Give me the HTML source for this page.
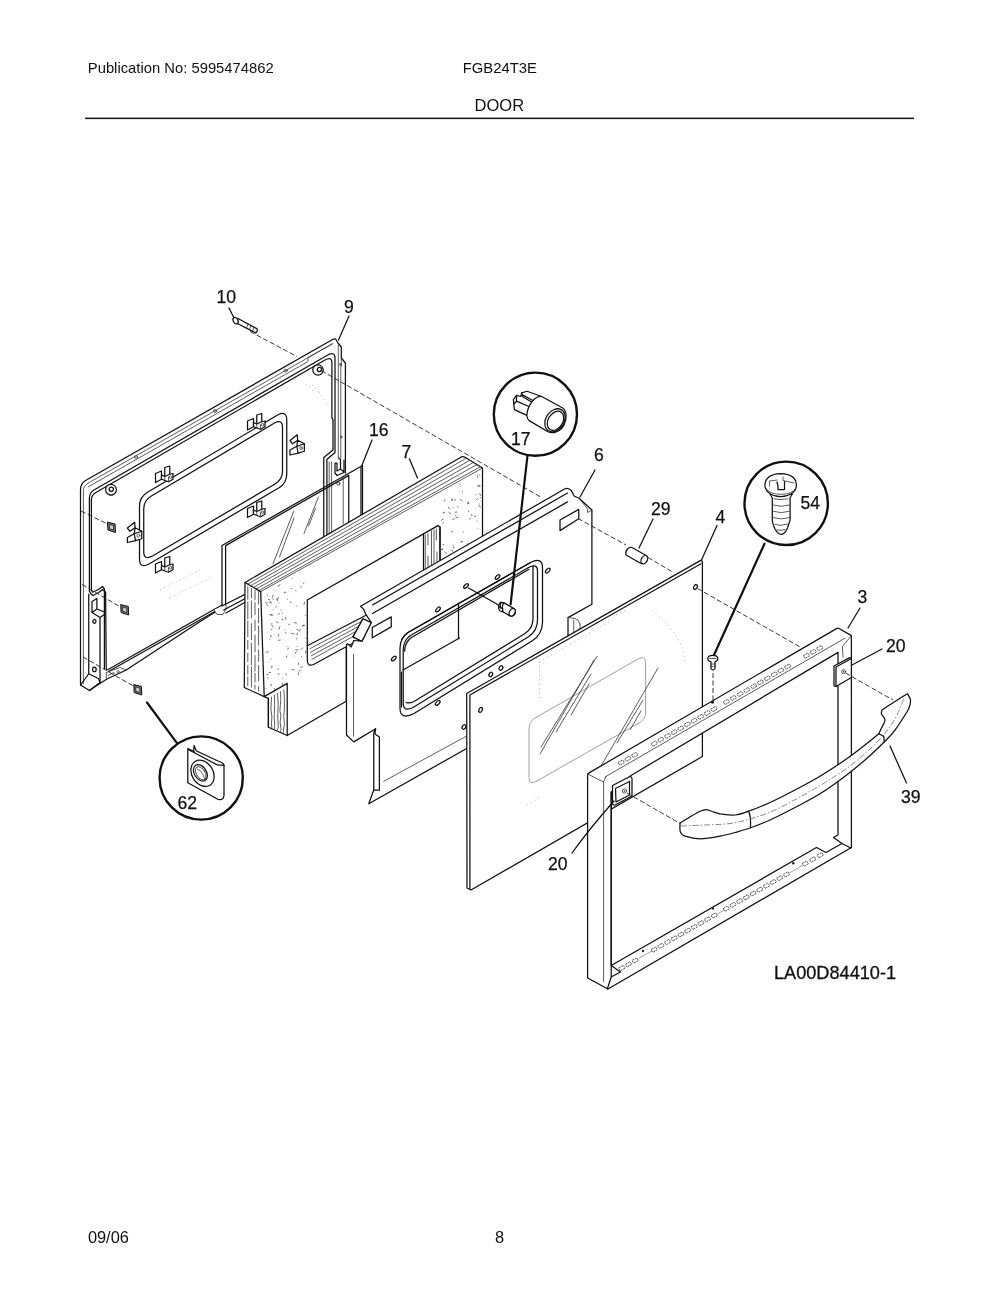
<!DOCTYPE html>
<html><head><meta charset="utf-8"><title>DOOR</title>
<style>
html,body{margin:0;padding:0;background:#fff;}
body{width:1000px;height:1294px;overflow:hidden;font-family:"Liberation Sans",sans-serif;}
svg{position:absolute;left:0;top:0;display:block}
svg text{font-family:"Liberation Sans",sans-serif;fill:#111;}
svg{filter:grayscale(1)}
.l{fill:none;stroke:#111;stroke-width:1.25;stroke-linejoin:round;stroke-linecap:round}
.w{fill:#fff;stroke:#111;stroke-width:1.25;stroke-linejoin:round;stroke-linecap:round}
.t{fill:none;stroke:#333;stroke-width:0.8;stroke-linejoin:round;stroke-linecap:round}
.tw{fill:#fff;stroke:#333;stroke-width:0.8;stroke-linejoin:round;stroke-linecap:round}
.g{fill:none;stroke:#888;stroke-width:0.8;stroke-linecap:round}
.d{fill:none;stroke:#222;stroke-width:0.9;stroke-dasharray:5 2.5}
.dd{fill:none;stroke:#999;stroke-width:0.8;stroke-dasharray:1 3.4}
.k{fill:none;stroke:#111;stroke-width:2.2;stroke-linecap:round}
.n{font-size:17.6px;stroke:#111;stroke-width:0.25}
</style></head>
<body>
<svg width="1000" height="1294" viewBox="0 0 1000 1294">
<rect x="0" y="0" width="1000" height="1294" fill="#fff"/>
<text x="87.8" y="72.6" font-size="14.8">Publication No: 5995474862</text>
<text x="462.8" y="72.6" font-size="14.8">FGB24T3E</text>
<text x="474.6" y="110.5" font-size="16.5">DOOR</text>
<rect x="85" y="117.6" width="829" height="1.5" fill="#111"/>
<text x="87.9" y="1243.3" font-size="16.4">09/06</text>
<text x="494.9" y="1243.3" font-size="16.4">8</text>
<!-- p09 -->
<g id="p09">
<!-- dashed assembly lines behind -->
<path class="d" d="M250,331.5 L297,356.5"/>
<!-- outer silhouette -->
<path d="M80.5,490 Q80.6,483 86,480.3 L333,339.2 L335.6,339 L338,343 L341.3,347 L341.3,358 L345.6,363 L345.6,600 L216,611.5 L194.75,625 L126.25,670 L107.5,678.75 L100.6,683 L89.4,690.5 L80.5,685 Z" fill="#fff" stroke="none"/>
<path class="l" d="M345.4,473 L345.4,363 L341.3,358 L341.3,347 L338,343 L335.6,339 L333,339.2 L86,480.3 Q80.6,483 80.5,490 L80.5,685 L89.4,690.5 L100.6,683 L107.5,678.75 L126.25,670 L194.75,625 L216,611.5"/>
<path class="t" d="M343.2,478 L343.2,524"/>
<!-- lip lines -->
<path class="t" d="M83.4,684 L83.4,491 Q83.6,485.5 88,483.2 L333,343.5"/>
<path class="t" d="M88,487 L308,361.5 L308,357.5 L332,344"/>
<!-- channel double line: top + left + right -->
<path class="l" stroke-width="0.95" stroke="#222" d="M89.4,591 L89.4,498 Q89.5,492.5 94,490 L326,356 Q335,350.5 335,358 L335,452.5 L326.9,459.4 L326.9,540"/>
<path class="l" stroke-width="0.95" stroke="#222" d="M91.4,590 L91.4,499.5 Q91.5,495 95.5,492.7 L325,360 Q331.9,356 331.9,363 L331.9,417.5 L333,420 L333,450 L323.75,457.5 L323.75,540"/>
<path class="t" d="M338.3,345 L338.3,457.5 M340.8,366 L340.8,458 M329.2,462 L329.2,540 M331.6,462 L331.6,540"/>
<path class="t" d="M341.3,358 L341.3,366"/>
<!-- hinge slot right -->
<path class="l" stroke-width="0.9" d="M335,463 L335,473 L337,475.5 L344,472.5 L344,460 M338.5,458 L340.5,459.5 L340.5,469 L337,471 L337,463 L335,463 M340.5,469 L344,472"/>
<circle class="t" stroke="#222" cx="338.2" cy="483.6" r="1.6"/>
<!-- left lower hinge bracket -->
<path class="l" d="M89.4,591 L90.6,593.5 L93,595.5 L98.75,592.5 L102.5,589.4 L105.6,592 L106.25,668.75 Q106.5,670.5 109,669 L222,605"/>
<path class="l" d="M91.4,590 L92.5,592.3 L98.5,589.5 L102.5,586.5 L104.4,589 L104.4,668.5"/>
<path class="l" stroke-width="0.95" d="M88.75,594 L88.75,673.75 L80.6,685 M88.75,673.75 L98.75,678.75 L100,683 M89.4,690.5 L98.75,683.5"/>
<path class="l" stroke-width="0.95" d="M100,617.5 L100,682.5 M100,617.5 L104.4,614.5 M92,612.5 L100,617.5 M92,612.5 L96.9,609 L96.9,598.5 L92,601.5 Z M96.9,609 L104.4,612"/>
<ellipse class="l" stroke-width="0.9" cx="94.4" cy="621.3" rx="1.6" ry="2"/>
<ellipse class="l" stroke-width="0.9" cx="94.4" cy="669.4" rx="1.8" ry="2.2"/>
<!-- bottom channel lines -->
<path class="l" d="M108.5,671.5 L222,607.5"/>
<path class="t" d="M106.3,672.5 L106.3,678.5 M106.3,672.5 L120,667.5 L126.25,670 M108,675.5 L114,672.5 L114,675 M118.5,670.6 a1.4,1 -30 1 0 0.1,0"/>
<!-- bottom middle foot -->
<path class="tw" d="M214,610 L217,614.5 L223,614.5 L226,609 L226,605"/>
<!-- window frame -->
<path class="l" d="M139.5,506 Q139.6,497 147.5,492.3 L278,414.8 Q286.75,410.5 286.75,420 L286.75,474 Q286.7,483 279,487.8 L149,564 Q139.5,569 139.5,559 Z"/>
<path class="l" d="M143.75,509 Q143.8,500.5 151,496.3 L274.5,423 Q282.5,418.8 282.5,427.5 L282.5,471.5 Q282.4,479.5 275,484 L152.5,556 Q143.75,560.5 143.75,552 Z"/>
<!-- bosses and holes -->
<circle class="w" stroke-width="1" cx="111" cy="489.7" r="5.4"/><circle class="l" stroke-width="0.9" cx="111.3" cy="489.3" r="2.1"/><path class="t" d="M106.6,492.5 Q108.5,496 112.5,495.5"/>
<circle class="w" stroke-width="1" cx="318" cy="370" r="5.2"/><circle class="l" stroke-width="0.9" cx="319.4" cy="369.4" r="2.1"/>
<ellipse class="t" cx="136" cy="457" rx="1.6" ry="1.3"/>
<ellipse class="t" cx="215" cy="411" rx="1.6" ry="1.3"/>
<ellipse class="t" cx="285.6" cy="370.6" rx="1.6" ry="1.3"/>
<ellipse class="t" cx="340.3" cy="364.4" rx="0.8" ry="1"/>
<ellipse class="t" cx="341.3" cy="437" rx="0.7" ry="0.9"/>
<!-- clips -->
<defs>
<g id="clipA">
<path class="w" d="M-4.25,0 L-4.25,-10.5 L0.75,-12 L0.75,-3.75"/>
<path class="w" d="M-13.5,-4.5 L-7.5,-7 L-7.5,1.25 L-13.5,4.5 Z"/>
<path class="w" d="M-7.5,-3 L-4.25,-1.5 L0.75,-3.75 L4,-4.5 L4,1.25 L-0.5,3.75 L-7.5,1.25 Z"/>
<path class="t" d="M-4.25,-1.5 L-4.25,2.4 M-0.5,3.75 L-0.5,-1"/>
<circle class="t" cx="1.6" cy="-0.8" r="1.3"/>
</g>
<g id="clipB">
<path class="w" d="M-10.6,-6.9 L-3.4,-12.75 L-2.9,-7.25 L-8.1,-3.75 Z"/>
<path class="w" d="M-10.6,7.5 L-10.6,2.5 L-3.75,-1.25 L-2.9,-7.25 L3.75,-3.75 L3.75,3.75 L-2.5,5.6 Z"/>
<path class="l" d="M-3.75,-1.25 L-2.5,5.6 M-3.75,-1.25 L3.75,-3.75" stroke-width="0.9"/>
<circle class="t" cx="0.4" cy="0.6" r="1.4"/>
</g>
<g id="unut">
<path d="M-4,-5 L3.6,-3 L4,5.5 L-3.6,3 Z" fill="#777" stroke="#111" stroke-width="1"/>
<path d="M-2.2,-2.6 L2,-1.4 L2.2,3 L-2,1.8 Z" fill="#ccc" stroke="#111" stroke-width="0.7"/>
</g>
</defs>
<use href="#clipA" x="169" y="478"/>
<use href="#clipA" x="261" y="425.5"/>
<use href="#clipA" x="261" y="513"/>
<use href="#clipA" x="169" y="568.5"/>
<use href="#clipB" x="138" y="535"/>
<use href="#clipB" x="300.6" y="447.5"/>
<!-- faint dotted -->
<path class="dd" d="M306,384 L313,391 M312,385 L320,393 M319,392 L328,405"/>
<path class="dd" d="M160,590 L200,570 M170,598 L210,578"/>
<!-- U nuts with dashed lines -->
<path class="d" d="M81,511 L107.5,524 M82,584.5 L120.6,607 M83,657 L133.75,686.3"/>
<use href="#unut" x="111.5" y="527"/>
<use href="#unut" x="124.7" y="609.5"/>
<use href="#unut" x="137.8" y="689.5"/>
<!-- screw 10 -->

<path class="w" stroke-width="1" d="M237.5,318.3 L256.8,328.6 Q258.3,330.8 255.6,332.9 L236,322.8 Z"/>
<path class="t" d="M248,324 L246.5,328 M251,325.6 L249.5,329.6 M254,327.2 L252.5,331.2"/>
<ellipse class="w" stroke-width="1" cx="235.6" cy="320.6" rx="2.3" ry="3.4" transform="rotate(-28 235.6 320.6)"/>
<path class="t" d="M237.5,318.3 Q239.5,320.5 238,324"/>
<path class="l" d="M229,308 L233.5,317"/>
<path class="l" d="M338.5,340 L349,316"/>
</g>

<!-- p07 -->
<g id="p16">
<path class="l" d="M222,545.5 L362.5,465.5 L362.5,535 L222,606 Z"/>
<path class="l" d="M225.6,545.6 L348.75,475.4 M348.75,475.4 L348.75,530 M361,466.5 L361,530 M225.6,545.6 L225.6,604.4"/>
<path class="l" d="M223.75,610 L250,596 M226,613 L250,599.5"/>
<path class="t" d="M293.75,511.25 L273,563.75 M294,518 L279.5,557 M318.4,497 L304,533.5 M315.5,508.5 L308.5,526"/>
<path class="l" d="M361.9,465.6 L372,440"/>
</g>
<g id="p07">
<path class="w" d="M245,582.5 L460,457.7 Q462.5,456 465,457.3 L482.5,468 L482.5,560 L346.25,640 L346.25,701.25 L287.2,735.5 L268.4,727.2 L268.4,698.4 L264.2,696.6 L244.3,687.5 Z"/>
<path class="t" stroke="#555" stroke-width="0.7" d="M247.8,584.1 L466.1,458.3"/>
<path class="t" stroke="#555" stroke-width="0.7" d="M250.6,585.8 L469.6,460.4"/>
<path class="t" stroke="#555" stroke-width="0.7" d="M253.4,587.4 L473.2,462.5"/>
<path class="t" stroke="#555" stroke-width="0.7" d="M256.2,589.0 L476.8,464.6"/>
<path class="t" stroke="#555" stroke-width="0.7" d="M259.0,590.6 L480.4,466.7"/>
<path class="l" d="M245,582.5 L260.7,591.6"/>
<path class="t" stroke="#333" stroke-width="0.9" d="M260.7,591.6 L482.5,468"/>
<path class="l" d="M260.7,591.6 L264.2,696.6 L287.2,683.4 L287.2,735.5"/>
<path class="l" d="M268.4,698.4 L268.4,727.2"/>
<path class="t" d="M247.8,586.8 L247.8,599.3 M247.8,601.9 L247.8,619.0 M247.8,621.3 L247.8,636.8 M247.8,640.3 L247.8,649.1 M247.8,653.1 L247.8,661.6 M247.8,665.4 L247.8,674.4 M247.8,676.7 L247.8,685.8 " stroke-width="1" stroke="#222"/>
<path class="t" d="M251.4,588.4 L251.4,598.1 M251.4,601.0 L251.4,617.8 M251.4,623.6 L251.4,639.7 M251.4,643.3 L251.4,664.9 M251.4,667.1 L251.4,687.1 " stroke-width="1" stroke="#222"/>
<path class="t" d="M255,590.0 L255,600.0 M255,602.5 L255,614.8 M255,620.1 L255,630.6 M255,635.0 L255,651.9 M255,655.4 L255,671.1 M255,673.3 L255,682.1 M255,685.0 L255,689.2 " stroke-width="1" stroke="#222"/>
<path class="t" d="M258.6,591.7 L258.6,604.1 M258.6,608.4 L258.6,622.7 M258.6,625.9 L258.6,645.1 M258.6,649.9 L258.6,661.3 M258.6,665.6 L258.6,680.9 M258.6,686.4 L258.6,690.9 " stroke-width="1" stroke="#222"/>
<path class="t" d="M271.5,697.1 L270.9,709.0 L271.9,716.9 L271.5,723.0 L271.8,727.6 "/>
<path class="t" d="M274.5,695.3 L274.6,705.7 L274.2,716.8 L274.7,726.7 L274.4,728.9 "/>
<path class="t" d="M277.5,693.5 L278.2,704.4 L277.8,712.7 L277.8,718.2 L278.3,727.7 L277.2,730.2 "/>
<path class="t" d="M280.5,691.7 L280.8,699.4 L280.4,704.6 L279.9,710.8 L280.9,716.2 L280.1,722.1 L281.1,729.8 L280.4,731.5 "/>
<path class="t" d="M283.8,689.8 L284.4,698.6 L284.4,709.3 L283.7,716.3 L284.4,723.8 L283.2,733.0 "/>
<path class="w" d="M307.3,600 L438,525.6 L440,527 L440,600 L347.5,646 L314,664.2 Q307.3,667.5 307.3,659.5 Z"/>
<path class="l" d="M423.5,534 L423.5,575 M440,527 L440,565"/>
<path class="t" d="M425.3,535 L425.3,572 M428,534 L428,545 M428,556 L428,570 M431.5,531 L431.5,568 M434,530 L434,566 M437,552 L437,564 M436.3,529 L436.3,540"/>
<path class="l" d="M307.3,645.8 L366,615.2"/>
<path class="t" d="M310.1,648.6 L365.0,619.5"/>
<path class="t" d="M310.7,652.2 L364.0,623.5"/>
<path class="t" d="M311.3,655.8 L363.0,627.5"/>
<path class="t" d="M311.9,659.4 L362.0,631.5"/>
<path d="M272.4,598.4 l1.4,1.2 M289.7,602.2 l1.7,0.0 M280.5,640.0 l-2.4,0.4 M286.7,646.4 l-0.4,0.6 M302.8,666.6 l-2.5,1.0 M281.5,619.2 l2.1,0.7 M273.8,589.7 l0.4,0.6 M269.3,614.8 l2.9,0.2 M290.8,588.0 l1.1,1.1 M280.3,584.8 l-2.8,1.5 M284.6,629.7 l0.8,0.2 M279.4,602.5 l-0.9,0.5 M266.0,687.9 l-0.1,1.0 M301.3,656.2 l1.1,1.1 M272.0,665.6 l-0.3,2.6 M278.8,597.3 l-2.6,1.8 M300.8,669.9 l-2.1,1.4 M274.5,633.9 l0.3,0.6 M266.2,604.3 l1.6,1.7 M305.2,625.2 l-3.1,0.6 M305.1,614.9 l0.9,0.8 M273.3,594.9 l-1.1,2.7 M300.3,629.2 l-1.2,2.4 M268.6,651.7 l-2.5,0.7 M296.5,629.0 l2.2,1.4 M279.0,669.2 l-1.6,0.1 M295.4,590.7 l0.9,0.4 M271.1,672.4 l-2.3,0.1 M279.7,637.8 l0.6,0.3 M305.8,650.4 l-0.3,3.0 M283.2,678.0 l-1.0,0.6 M275.6,606.0 l1.5,1.5 M275.9,621.7 l2.7,1.2 M279.9,626.5 l-0.8,2.9 M282.7,683.8 l-0.0,2.0 M283.5,592.3 l2.7,0.0 M272.2,628.4 l-1.3,1.6 M278.7,634.0 l-0.5,2.6 M269.5,639.3 l0.9,0.9 M297.4,632.7 l-0.5,2.5 M303.3,624.7 l-0.7,1.8 M286.5,655.7 l0.3,2.0 M304.6,601.8 l-0.6,3.0 M300.3,586.6 l1.6,0.7 M268.0,599.5 l2.3,0.5 M271.5,658.7 l-0.5,0.9 M274.2,688.1 l0.6,1.8 M271.8,623.2 l-0.1,1.5 M273.2,609.2 l-0.4,0.5 M288.3,624.3 l1.5,0.1 M291.2,633.3 l3.1,0.6 M269.4,602.6 l2.6,0.3 M282.7,683.0 l-1.1,0.7 M271.3,683.9 l-0.5,2.4 M293.9,622.5 l3.0,0.7 M291.6,669.3 l2.7,0.7 M267.8,676.9 l0.2,1.5 M287.1,599.2 l1.0,0.3 M267.1,594.6 l0.8,1.2 M296.9,605.6 l-0.0,1.1 M295.8,638.1 l1.5,1.0 M304.3,582.7 l-1.5,0.9 M285.8,673.4 l0.6,1.8 M279.4,673.1 l-1.4,1.8 M282.0,612.8 l0.9,0.2 M268.0,661.7 l0.7,0.7 M268.5,674.2 l-2.2,0.9 M276.8,599.7 l1.1,1.4 M271.6,625.0 l2.1,2.3 M305.9,637.6 l2.2,2.2 M278.0,613.9 l1.6,0.0 M284.9,632.1 l1.5,1.1 M265.2,602.4 l1.6,0.5 M277.8,598.5 l-0.5,1.9 M296.5,651.4 l-1.8,2.2 M281.4,610.1 l-1.0,0.0 M295.4,649.6 l2.7,0.4 M302.5,647.6 l-1.8,2.0 M270.9,634.7 l-0.0,2.8 M298.8,672.4 l-0.8,2.8 M293.7,655.8 l0.5,0.5 M270.6,614.4 l2.6,0.9 M288.5,647.7 l-0.9,2.2 M298.5,662.7 l-0.0,2.0 M292.7,577.7 l-0.9,0.9 M268.1,602.6 l-0.7,0.9 M285.7,617.1 l0.2,2.4 M297.2,646.3 l-0.3,0.7 M271.2,601.1 l-1.0,1.0 M445.3,499.4 l-1.2,2.1 M468.7,501.7 l-0.1,1.8 M460.7,484.1 l-1.1,0.4 M443.7,518.8 l-2.6,1.7 M460.1,499.4 l2.4,1.9 M451.0,531.3 l1.8,0.8 M479.2,485.5 l-1.6,1.0 M476.7,543.7 l2.2,1.9 M443.1,522.2 l0.2,1.4 M448.3,507.1 l1.5,2.3 M443.1,548.6 l-0.8,0.4 M478.2,544.7 l-1.3,0.4 M457.1,512.1 l-2.1,0.0 M456.7,515.7 l0.5,0.6 M446.9,557.1 l1.9,2.4 M452.5,499.1 l-0.0,1.1 M478.7,528.0 l-0.5,0.6 M470.8,518.0 l-1.6,1.6 M478.2,485.0 l0.1,1.5 M454.3,547.4 l-1.3,0.1 M467.9,502.7 l-0.3,1.6 M450.9,564.4 l0.0,1.2 M460.1,486.2 l0.7,0.5 M452.1,498.4 l-0.6,2.8 M471.5,514.1 l0.5,1.9 M457.3,506.5 l1.3,0.3 M479.8,484.8 l-0.0,2.2 M475.8,494.0 l0.8,0.9 M458.2,517.5 l-2.8,0.4 M444.2,544.4 l-1.7,0.6 M479.9,497.3 l0.9,0.3 M462.8,541.6 l-2.4,0.5 M467.6,550.0 l0.3,2.0 M444.5,551.8 l2.2,2.0 M467.5,503.0 l1.2,0.5 M467.2,543.3 l0.7,0.3 M462.9,531.5 l0.4,1.1 M454.5,519.0 l-2.3,0.3 M476.6,520.5 l0.9,0.8 M479.5,543.9 l0.4,0.5 M461.9,540.8 l0.3,1.2 M455.8,514.9 l-0.6,0.9 M473.3,547.4 l-0.0,1.1 M479.9,503.8 l-1.0,0.6 M451.4,549.6 l1.8,2.5 M461.8,491.1 l1.3,1.1 M448.6,512.1 l2.5,1.9 M445.3,512.1 l-2.8,0.9 M478.4,505.6 l2.5,1.7 M468.2,510.6 l0.6,1.3 M453.6,507.8 l-0.9,0.1 M479.6,493.2 l1.2,2.5 M474.2,516.1 l1.8,0.3 M457.2,565.8 l1.3,0.9 M477.1,475.1 l0.7,2.6 M478.0,498.2 l-2.1,2.1 M455.9,499.8 l-2.2,0.3 M453.0,545.1 l0.7,1.1 M443.1,549.1 l-2.2,0.6 M478.8,474.5 l1.4,1.2 " fill="none" stroke="#444" stroke-width="0.75"/>
<path class="l" d="M409.4,458.75 L417.5,478"/>
</g>
<!-- p06 -->
<g id="p06">
<!-- flap tab behind top-left -->
<path class="w" d="M363,618.75 L371.25,622.75 L361.9,641.25 L353,636.9 Z"/>
<!-- silhouette -->
<path class="w" d="M360.6,606.25 L565,488.75 Q567,487.8 568.5,488.8 L571.25,490.6 L574.4,496.25 L578.75,498 L591.9,510 L591.9,604.3 L568,617.6 L568,700 L466.25,748.75 L368.75,803.75 L373.75,790 L373.75,733 L375.6,728.75 L353.75,741.9 L346.5,735 L346.5,644.4 L347.5,643.75 L351.25,646.9 L353.8,640.5 L361.9,641.25 L371.25,622.5 L367.5,616.9 L365.6,613.75 L363.75,609.4 Z"/>
<!-- flap tab -->
<path class="w" d="M363,618.75 L371.25,622.75 L361.9,641.25 L353,636.9 Z"/>
<!-- top fold lines -->
<path class="l" d="M372.5,605 L567.5,493"/>
<path class="l" d="M372.5,613.5 L567.5,501.9"/>
<!-- top-right fold -->
<path class="t" d="M580,499.5 L587.5,508.75 L587.5,512.5 L591.9,510"/>
<!-- left inner line -->
<path class="t" stroke="#222" d="M353.5,654.4 L353.5,736.25"/>
<!-- bottom-left leg -->
<path class="l" d="M379.4,737 L379.4,790 L373.75,790 M375.6,728.75 L375,734 L379.4,737"/>
<path class="t" stroke="#222" d="M383.75,781.25 L466.25,736.25"/>
<!-- bottom right channel -->
<path class="t" stroke="#222" d="M573.75,620 L573.75,640 M580,624 L580,636 M568,617.6 L575,618.5 Q579,619.5 580,624"/>
<!-- slots -->
<path class="l" d="M372.25,627.5 L391.25,616.9 L391.25,626.9 L372.25,637.75 Z"/>
<path class="l" d="M560,520 L578.75,509.4 L578.75,518.75 L560,530.6 Z"/>
<!-- window inner content (seen through) -->
<path class="w" d="M400,648 Q400.1,638 408,632.5 L530.5,562.5 Q542.5,556.5 542.5,568 L542.5,622 Q542.4,634.5 532,641 L414,713.5 Q400,720.5 400,708 Z"/>
<path class="l" d="M403,670 L459.5,638 M458.5,603.5 L458.5,638.75"/>
<path class="l" d="M403.2,650 Q403.3,640.5 410.5,635.5 L529,567.3 Q537.5,563 537.5,571 L537.5,620 Q537.4,631 528.5,636.8 L413,707.5 Q403.2,712.5 403.2,703 Z"/>
<path class="l" d="M404.6,651 Q405,642 411.5,637.5 L529,569.3"/>
<path class="l" d="M401.5,640 Q403.5,635.5 408,632.5 L530.5,562.5" stroke-width="2.2"/>
<path class="l" d="M533,566 L533,618.5 Q532.9,628.5 525,633.5 L414,701.5 Q409.5,703.8 406,702.5"/>
<path class="l" d="M401.5,672 L401.5,707"/>
<!-- holes -->
<g class="l">
<ellipse cx="466" cy="586" rx="2.9" ry="1.5" transform="rotate(-45 466 586)"/>
<ellipse cx="438" cy="609.4" rx="2.9" ry="1.5" transform="rotate(-45 438 609.4)"/>
<ellipse cx="497.5" cy="577" rx="2.9" ry="1.5" transform="rotate(-45 497.5 577)"/>
<ellipse cx="547.75" cy="570.6" rx="2.9" ry="1.5" transform="rotate(-45 547.75 570.6)"/>
<ellipse cx="393.75" cy="658.5" rx="2.9" ry="1.5" transform="rotate(-45 393.75 658.5)"/>
<ellipse cx="437.75" cy="702.9" rx="2.9" ry="1.5" transform="rotate(-45 437.75 702.9)"/>
<ellipse cx="490.75" cy="674.5" rx="2.4" ry="1.7" transform="rotate(-60 490.75 674.5)"/>
<ellipse cx="501" cy="668" rx="2.4" ry="1.7" transform="rotate(-60 501 668)"/>
<ellipse cx="464" cy="727" rx="2.4" ry="1.7" transform="rotate(-60 464 727)"/>
</g>
<!-- lamp lens 17 small with line -->
<path class="l" d="M468.6,588 L499,605.2" stroke-width="0.95"/>
<path class="w" d="M498.6,605.5 L500.5,602.3 L503.6,602.6 L514,608.6 Q516,610.5 515.2,613.5 Q514,616.3 510.5,616.2 L503,611.8 L500,611 L498.6,608.5 Z"/>
<ellipse class="w" cx="512.2" cy="612.3" rx="2.7" ry="4" transform="rotate(28 512.2 612.3)"/>
<path class="l" d="M503.6,602.6 Q501.5,606.5 503,611.8 M500.5,602.3 L500.3,608 M498.8,606.5 L503,609" stroke-width="0.9"/>
<!-- leaders -->
<path class="l" d="M580,497 L595,470"/>
</g>

<!-- p04 -->
<g id="p04">
<path class="w" d="M466.7,693.5 L700.7,560.4 L702.4,561.2 L702.4,756.5 L471,890 L467,888 Z"/>
<path class="l" d="M469.9,695 L701,563.7 M469.9,695 L469.9,889"/>
<!-- holes -->
<ellipse class="l" cx="480.5" cy="709.4" rx="2.6" ry="1.6" transform="rotate(-62 481 709.6)"/>
<ellipse class="l" cx="695.5" cy="587" rx="2.6" ry="1.6" transform="rotate(-62 695.5 587)"/>
<!-- dotted outline -->
<path class="dd" d="M539.5,661.8 L539.5,700 M539.5,661.8 L616,618 M616,614.5 L626,610 M652,610 Q684,636 685,662 M527,805 L540,797"/>
<!-- inner window thin grey -->
<path class="g" d="M529,729 Q529,722 535,718 L638,659 Q645.6,655 645.6,663 L645.6,713 Q645.5,719 640,722.3 L536,781.5 Q529,785.5 529,778 Z"/>
<!-- reflections -->
<path class="t" d="M597,656.4 L541,747 M594,660 L540,754 M591,674 L556,732 M589,684 L571,715"/>
<path class="t" d="M658,668 L590,785 M643,700 L617,743 M641,711 L630,730"/>
<path class="l" d="M701.5,560 L717,525.5"/>
</g>

<!-- p03 -->
<g id="p03">
<path class="w" fill-rule="evenodd" d="M587.6,775 Q587.7,773.6 589.5,772.6 L836.5,628.6 Q838,627.8 839.5,628.7 L851.4,635.6 L851.4,847.5 L608,989 L587.6,978 Z M611.2,792 L631,775.5 L838,652.4 L838,835 L833.5,837.5 L842,843.5 L826,852.5 L816.5,847.5 L611.2,965.5 Z"/>
<path class="t" stroke="#222" stroke-width="0.95" d="M606,776.4 L845,638.2"/>
<path class="t" stroke="#222" stroke-width="0.9" d="M587.6,774 L603.6,782 L603.6,981.5"/>
<path class="t" d="M603.6,782 L606,776.4"/>
<path class="l" d="M611.2,792 L611.2,977 L607.3,989 M611.2,965.5 L620.5,972 L611.5,976.8 M842,843.5 L850.8,848"/>
<path class="t" d="M851.4,635.6 L842.4,646.4 L843,657"/>
<g fill="none" stroke="#333" stroke-width="0.8" stroke-dasharray="2.2 0.7"><path d="M618.0,762.6 l4.7,-2.7 l1.8,2.7 l-4.7,2.7 Z"/><path d="M624.7,758.7 l4.7,-2.7 l1.8,2.7 l-4.7,2.7 Z"/><path d="M631.4,754.9 l4.7,-2.7 l1.8,2.7 l-4.7,2.7 Z"/><path d="M651.0,743.6 l4.7,-2.7 l1.8,2.7 l-4.7,2.7 Z"/><path d="M657.6,739.7 l4.7,-2.7 l1.8,2.7 l-4.7,2.7 Z"/><path d="M664.3,735.9 l4.7,-2.7 l1.8,2.7 l-4.7,2.7 Z"/><path d="M670.9,732.1 l4.7,-2.7 l1.8,2.7 l-4.7,2.7 Z"/><path d="M677.5,728.3 l4.7,-2.7 l1.8,2.7 l-4.7,2.7 Z"/><path d="M684.1,724.4 l4.7,-2.7 l1.8,2.7 l-4.7,2.7 Z"/><path d="M690.8,720.6 l4.7,-2.7 l1.8,2.7 l-4.7,2.7 Z"/><path d="M697.4,716.8 l4.7,-2.7 l1.8,2.7 l-4.7,2.7 Z"/><path d="M704.0,713.0 l4.7,-2.7 l1.8,2.7 l-4.7,2.7 Z"/><path d="M710.7,709.1 l4.7,-2.7 l1.8,2.7 l-4.7,2.7 Z"/><path d="M723.2,701.9 l4.7,-2.7 l1.8,2.7 l-4.7,2.7 Z"/><path d="M730.0,697.9 l4.7,-2.7 l1.8,2.7 l-4.7,2.7 Z"/><path d="M736.9,694.0 l4.7,-2.7 l1.8,2.7 l-4.7,2.7 Z"/><path d="M743.6,690.1 l4.7,-2.7 l1.8,2.7 l-4.7,2.7 Z"/><path d="M750.5,686.2 l4.7,-2.7 l1.8,2.7 l-4.7,2.7 Z"/><path d="M757.2,682.3 l4.7,-2.7 l1.8,2.7 l-4.7,2.7 Z"/><path d="M764.0,678.3 l4.7,-2.7 l1.8,2.7 l-4.7,2.7 Z"/><path d="M770.9,674.4 l4.7,-2.7 l1.8,2.7 l-4.7,2.7 Z"/><path d="M777.6,670.5 l4.7,-2.7 l1.8,2.7 l-4.7,2.7 Z"/><path d="M784.5,666.6 l4.7,-2.7 l1.8,2.7 l-4.7,2.7 Z"/><path d="M803.2,655.7 l4.7,-2.7 l1.8,2.7 l-4.7,2.7 Z"/><path d="M809.9,651.9 l4.7,-2.7 l1.8,2.7 l-4.7,2.7 Z"/><path d="M816.5,648.1 l4.7,-2.7 l1.8,2.7 l-4.7,2.7 Z"/></g>
<g fill="none" stroke="#333" stroke-width="0.8" stroke-dasharray="2.2 0.7"><path d="M618.6,968.1 l4.7,-2.7 l1.8,2.7 l-4.7,2.7 Z"/><path d="M625.3,964.3 l4.7,-2.7 l1.8,2.7 l-4.7,2.7 Z"/><path d="M632.0,960.5 l4.7,-2.7 l1.8,2.7 l-4.7,2.7 Z"/><path d="M651.0,949.7 l4.7,-2.7 l1.8,2.7 l-4.7,2.7 Z"/><path d="M657.7,945.9 l4.7,-2.7 l1.8,2.7 l-4.7,2.7 Z"/><path d="M664.3,942.1 l4.7,-2.7 l1.8,2.7 l-4.7,2.7 Z"/><path d="M671.0,938.3 l4.7,-2.7 l1.8,2.7 l-4.7,2.7 Z"/><path d="M677.7,934.5 l4.7,-2.7 l1.8,2.7 l-4.7,2.7 Z"/><path d="M684.4,930.7 l4.7,-2.7 l1.8,2.7 l-4.7,2.7 Z"/><path d="M691.0,926.9 l4.7,-2.7 l1.8,2.7 l-4.7,2.7 Z"/><path d="M697.7,923.1 l4.7,-2.7 l1.8,2.7 l-4.7,2.7 Z"/><path d="M704.4,919.3 l4.7,-2.7 l1.8,2.7 l-4.7,2.7 Z"/><path d="M711.0,915.5 l4.7,-2.7 l1.8,2.7 l-4.7,2.7 Z"/><path d="M723.0,908.7 l4.7,-2.7 l1.8,2.7 l-4.7,2.7 Z"/><path d="M729.7,904.9 l4.7,-2.7 l1.8,2.7 l-4.7,2.7 Z"/><path d="M736.4,901.1 l4.7,-2.7 l1.8,2.7 l-4.7,2.7 Z"/><path d="M743.1,897.3 l4.7,-2.7 l1.8,2.7 l-4.7,2.7 Z"/><path d="M749.8,893.4 l4.7,-2.7 l1.8,2.7 l-4.7,2.7 Z"/><path d="M756.5,889.6 l4.7,-2.7 l1.8,2.7 l-4.7,2.7 Z"/><path d="M763.2,885.8 l4.7,-2.7 l1.8,2.7 l-4.7,2.7 Z"/><path d="M769.9,882.0 l4.7,-2.7 l1.8,2.7 l-4.7,2.7 Z"/><path d="M776.6,878.2 l4.7,-2.7 l1.8,2.7 l-4.7,2.7 Z"/><path d="M783.3,874.4 l4.7,-2.7 l1.8,2.7 l-4.7,2.7 Z"/><path d="M802.0,863.7 l4.7,-2.7 l1.8,2.7 l-4.7,2.7 Z"/><path d="M809.5,859.5 l4.7,-2.7 l1.8,2.7 l-4.7,2.7 Z"/><path d="M817.0,855.2 l4.7,-2.7 l1.8,2.7 l-4.7,2.7 Z"/></g>
<path class="g" d="M639,958.3 L652,951 M718,913.6 L724,910.2 M790,872.6 L802,865.8"/>
<circle cx="643" cy="951" r="1.2" fill="#222"/>
<circle cx="713" cy="908.6" r="1.2" fill="#222"/>
<circle cx="793.25" cy="863.25" r="1.2" fill="#222"/>
<circle cx="712.4" cy="702.4" r="1.2" fill="#222"/>
<path class="w" d="M612.5,785.5 L629,777 Q632,776 632,779 L632,796 L615,805 Q612.5,805.5 612.5,803 Z"/>
<path class="l" d="M615.5,788.5 L629.5,781.5 L629.5,795 L616,802 Z"/>
<circle class="t" cx="624.5" cy="791" r="2.1"/><circle cx="624.5" cy="791" r="0.8" fill="#333"/>
<path class="l" d="M614,801 Q590,828 572,853"/>
<path class="w" d="M834,666 L849.6,657.6 L851.4,658.5 L851.4,677.5 L836,686.5 L834,686 Z"/>
<path class="l" d="M836,667 L851.4,658.5 M836,667 L836,686.5"/>
<circle class="t" cx="843.6" cy="671.6" r="2"/><circle cx="843.6" cy="671.6" r="0.8" fill="#333"/>
<path class="l" d="M852,665 L882,649"/>
<path class="l" d="M848,628 L860,608"/>
</g>
<!-- p39 -->
<g id="p39">
<path class="w" d="M680.0,823.0 C681.7,822.0 686.7,819.0 690.0,817.0 C693.3,815.0 697.3,812.5 700.0,811.2 C702.7,810.0 704.2,809.5 706.2,809.5 C708.2,809.5 709.7,810.8 712.0,811.5 C714.3,812.2 716.2,813.2 720.0,813.8 C723.8,814.3 730.2,815.4 735.0,815.0 C739.8,814.6 742.9,813.3 748.8,811.2 C754.6,809.2 762.3,806.0 770.0,802.5 C777.7,799.0 786.7,794.4 795.0,790.0 C803.3,785.6 811.7,781.2 820.0,776.2 C828.3,771.2 837.5,765.2 845.0,760.0 C852.5,754.8 859.4,749.4 865.0,745.0 C870.6,740.6 876.5,735.6 878.8,733.8  L878.8,733.8 C879.1,733.0 880.0,731.3 881.0,729.0 C882.0,726.7 884.9,722.5 885.0,720.0 C885.1,717.5 882.0,715.7 881.5,714.0 C881.0,712.3 881.9,710.7 882.0,710.0  L882.0,710.0 C884.2,708.6 890.8,704.2 895.0,701.5 C899.2,698.8 905.4,695.0 907.5,693.8  L907.5,693.8 C908.0,694.8 910.2,697.6 910.5,700.0 C910.8,702.4 909.9,705.5 909.0,708.0 C908.1,710.5 907.3,711.3 905.0,715.0 C902.7,718.7 898.3,725.6 895.0,730.0 C891.7,734.4 890.0,736.2 885.0,741.2 C880.0,746.2 871.7,754.2 865.0,760.0 C858.3,765.8 852.5,770.6 845.0,776.2 C837.5,781.9 828.3,788.5 820.0,793.8 C811.7,799.0 803.3,803.1 795.0,807.5 C786.7,811.9 777.3,816.7 770.0,820.0 C762.7,823.3 757.1,825.4 751.2,827.5 C745.4,829.6 740.2,831.0 735.0,832.5 C729.8,834.0 725.8,835.2 720.0,836.2 C714.2,837.3 705.8,838.8 700.0,838.8 C694.2,838.8 688.2,837.2 685.0,836.2 C681.8,835.3 681.8,834.0 681.0,833.0 C680.2,832.0 680.2,831.7 680.0,830.0 C679.8,828.3 680.0,824.2 680.0,823.0 Z"/>
<path class="l" d="M748.5,811.3 Q751,815 750.5,827.8"/>
<path class="l" d="M878.75,733.75 L883.75,736.25 L884.3,742"/>
<path d="M681.0,826.0 C685.0,825.8 696.8,825.4 705.0,825.0 C713.2,824.6 722.2,824.6 730.0,823.5 C737.8,822.4 744.5,820.8 752.0,818.5 C759.5,816.2 767.0,813.6 775.0,810.0 C783.0,806.4 791.7,801.6 800.0,797.0 C808.3,792.4 816.7,787.7 825.0,782.5 C833.3,777.3 842.5,771.6 850.0,766.0 C857.5,760.4 864.0,754.7 870.0,749.0 C876.0,743.3 881.5,737.7 886.0,732.0 C890.5,726.3 894.0,720.7 897.0,715.0 C900.0,709.3 902.8,700.8 904.0,698.0 " fill="none" stroke="#555" stroke-width="0.7" stroke-dasharray="6 2 1.5 2"/>
<path class="l" d="M890,746 L906.5,783"/>
</g>
<!-- misc -->
<g id="misc">
<!-- dashed assembly lines -->
<path class="d" d="M321.3,370.6 L541.5,497.5"/>
<path class="d" d="M578,518.5 L626,545 M648,557.5 L672.5,572"/>
<path class="d" d="M697.5,588.5 L801,647.5"/>
<path class="d" d="M845.5,673 L893,700"/>
<path class="d" d="M627,793 L681,824"/>
<path class="d" d="M713,673 L713,700" stroke-dasharray="2 1.6" stroke="#222" stroke-width="0.9"/>
<!-- part 29 -->
<path class="w" d="M627.5,549 Q625,551.5 626,555 L641,563.5 L647,556 L632,547.5 Q629.5,547 627.5,549 Z" stroke-width="1"/>
<ellipse class="w" cx="644.3" cy="559.7" rx="3" ry="4.4" transform="rotate(28 644.3 559.7)" stroke-width="1"/>
<path class="l" d="M653,519 L639,548"/>
<!-- circle 17 -->
<circle cx="535.4" cy="414.2" r="41.6" fill="#fff" stroke="#111" stroke-width="2.4"/>
<path class="k" d="M527.5,455.5 L510.6,604.4" stroke-width="2.1"/>
<g>
<path class="w" d="M513.4,399.6 L516.5,395.4 L520.7,396.5 L521.75,392.8 L527,391.25 L541.7,396.5 L531.2,407 L527,415.4 L514.4,409.6 Z"/>
<path class="l" d="M516.5,395.4 L516.5,401.2 L530.2,407 M516.5,401.2 L513.8,404 M521.75,394.4 L533.3,400.7 M521.75,392.8 L522.3,396.5 L531.2,401.7"/>
<path class="w" d="M541.7,396.5 L562.7,408 Q567,411 565.8,419.5 Q563.5,430 555,432.3 Q551,433 548,431.7 L529.1,420.6 Q526,417.5 527.2,412 Q529,404 534.5,399 Q538,396 541.7,396.5 Z"/>
<ellipse class="l" cx="555" cy="420.3" rx="9.2" ry="12.3" transform="rotate(32 555 420.3)"/>
<ellipse class="l" cx="555.5" cy="420.8" rx="7.3" ry="10.3" transform="rotate(32 555.5 420.8)"/>
</g>
<!-- circle 54 -->
<circle cx="786.2" cy="503.3" r="41.7" fill="#fff" stroke="#111" stroke-width="2.4"/>
<path class="k" d="M764.5,543.75 L713.75,655.5" stroke-width="2.1"/>
<g>
<path class="w" d="M770,494 L772.3,498 L772.3,521 Q773,525 775,529 Q778,534.3 781.2,534.3 Q785,534 787.5,528 L790.1,520 L790.1,497.5 L792.5,494 Z"/>
<path class="t" d="M774,498.8 Q781,500.5 788,498.8 M773.5,505.1 Q781,507.6 789.5,505 M773.5,511.4 Q781,514 789.5,511.3 M773.5,517.7 Q781,520.3 789.5,517.6 M775,524.5 Q781,526.5 787.5,524 M777,530 Q781,531 785,529.5"/>
<path class="w" d="M764.9,485 Q765.5,474 780.7,473.6 Q796,474 796.4,485 Q796.5,489.5 793,492.5 Q788,496.5 780.7,496.5 Q773,496.5 768.5,492.5 Q764.9,489.5 764.9,485 Z"/>
<path class="t" d="M766,488.5 Q770,494.5 781,494.3 Q792,494.5 795.5,488.5"/>
<path class="t" d="M769.5,486 L769.5,481 L777,480 M783,477 L783,480.5 L794,483"/>
<path class="l" d="M784.5,481.5 L784.5,489.5 L778,489.5 L778,486.5 M777,482 L778,486"/>
</g>
<!-- small screw 54 -->
<path class="w" d="M707.8,658.8 Q707.8,655.3 712.8,655.3 Q717.8,655.3 717.8,658.8 Q717.8,661 715,661.8 L715,668.5 Q712.9,671.5 711,668.5 L711,661.8 Q707.8,661 707.8,658.8 Z" stroke-width="1"/>
<path class="t" d="M711,664 L715,664 M711,666.3 L715,666.3 M709.5,658.5 L716,658.5"/>
<rect x="711.4" y="701" width="2.6" height="2.2" fill="#222"/>
<!-- circle 62 -->
<circle cx="201.2" cy="778" r="41.6" fill="#fff" stroke="#111" stroke-width="2.4"/>
<path class="k" d="M147,702.5 L176.8,742.85" stroke-width="2.1"/>
<g>
<path class="w" d="M187.8,748.6 L193.6,751.2 L194.1,745.5 L196.2,750.7 L218,761 Q222,762 223.5,764 L224,765.4 L224,795.5 Q223.5,800.5 218.25,799.5 L187.8,782.75 Z"/>
<path class="l" d="M188.3,749.7 L193,752 L217.2,764.9 L224,765.4 M193.6,751.2 L194.8,752.8"/>
<ellipse class="l" cx="202.5" cy="773.3" rx="10.6" ry="14" transform="rotate(-32 202.5 773.3)"/>
<ellipse class="l" cx="200.4" cy="772.8" rx="6" ry="9" transform="rotate(-32 200.4 772.8)"/>
<ellipse class="t" cx="200.8" cy="773.3" rx="4.3" ry="7.3" transform="rotate(-32 200.8 773.3)"/>
<path class="t" d="M197.5,769 Q201,770 203.5,775.5 Q204.5,778 204.5,780"/>
</g>
</g>

<!-- labels -->
<g class="n">
<text x="216.5" y="303">10</text>
<text x="344" y="312.5">9</text>
<text x="369" y="436.3">16</text>
<text x="401.5" y="458">7</text>
<text x="511" y="444.5">17</text>
<text x="594" y="460.8">6</text>
<text x="651" y="514.5">29</text>
<text x="715.5" y="522.5">4</text>
<text x="800.5" y="509.3">54</text>
<text x="857.5" y="602.5">3</text>
<text x="886" y="652">20</text>
<text x="901" y="802.5">39</text>
<text x="548" y="870">20</text>
<text x="177.5" y="808.8">62</text>
</g>
<text x="774" y="978.7" font-size="18.15" stroke="#111" stroke-width="0.3">LA00D84410-1</text>


</svg>
</body></html>
